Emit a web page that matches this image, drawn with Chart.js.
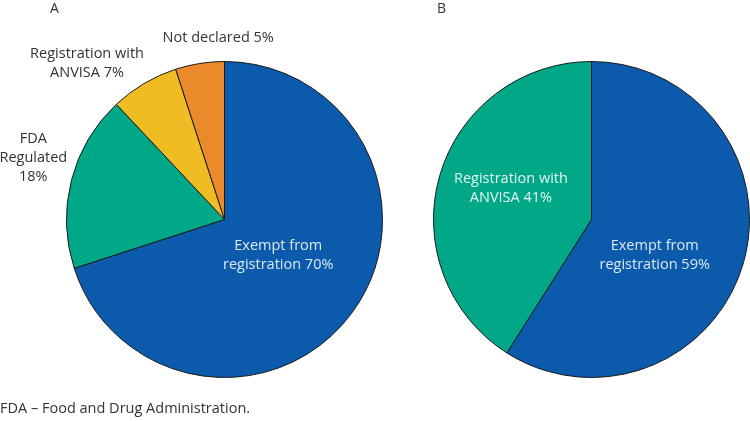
<!DOCTYPE html>
<html>
<head>
<meta charset="utf-8">
<script src="https://cdn.jsdelivr.net/npm/chart.js@4.4.0/dist/chart.umd.min.js"></script>
<style>
    body { margin: 0; background: #fff; width: 750px; height: 421px; position: relative; overflow: hidden; font-family: 'Open Sans', sans-serif; color: #333; }
    #chartA { position: absolute; left: 0; top: 0; }
    #chartB { position: absolute; left: 400px; top: 0; }
    .panel { position: absolute; top: -2px; font-size: 14px; }
    .note { position: absolute; left: 0; top: 398px; font-size: 14.5px; }
</style>
</head>
<body>
<canvas id="chartA" width="400" height="421"></canvas>
<canvas id="chartB" width="350" height="421"></canvas>
<div class="panel" style="left:50px">A</div>
<div class="panel" style="left:437px">B</div>
<div class="note">FDA – Food and Drug Administration.</div>
<script>
// Chart data
const categoriesA = ['Exempt from registration', 'FDA Regulated', 'Registration with ANVISA', 'Not declared'];
const valuesA = [70, 18, 7, 5];
const categoriesB = ['Exempt from registration', 'Registration with ANVISA'];
const valuesB = [59, 41];

// Label text lines (text only)
const labelLinesA = [['Exempt from', 'registration 70%'], ['FDA', 'Regulated', '18%'], ['Registration with', 'ANVISA 7%'], ['Not declared 5%']];
const labelLinesB = [['Exempt from', 'registration 59%'], ['Registration with', 'ANVISA 41%']];

const colorsA = ['#0b5aab', '#00a887', '#efbd23', '#ea8a2b'];
const colorsB = ['#0b5aab', '#00a887'];

// Label placement in radius units from pie centre
const labelPosA = [[0.34, 0.23], [-1.21, -0.39], [-0.87, -0.99], [-0.04, -1.15]];
const labelPosB = [[0.40, 0.23], [-0.51, -0.20]];
const labelColorA = ['#dce8f6', '#333', '#333', '#333'];
const labelColorB = ['#dce8f6', '#e2f5ef'];

const sliceLabels = {
    id: 'sliceLabels',
    afterDraw(chart, args, opts) {
        const ctx = chart.ctx;
        const arc = chart.getDatasetMeta(0).data[0];
        const r = arc.outerRadius;
        ctx.save();
        ctx.font = '14.5px "Open Sans", sans-serif';
        ctx.textAlign = 'center';
        ctx.textBaseline = 'middle';
        opts.lines.forEach((lines, i) => {
            const cx = arc.x + opts.pos[i][0] * r;
            const cy = arc.y + opts.pos[i][1] * r;
            const lh = 19;
            ctx.fillStyle = opts.colors[i];
            lines.forEach((t, j) => {
                ctx.fillText(t, cx, cy + (j - (lines.length - 1) / 2) * lh);
            });
        });
        ctx.restore();
    }
};

function makePie(id, labels, values, colors, padding, lines, pos, textColors) {
    return new Chart(document.getElementById(id), {
        type: 'pie',
        data: {
            labels: labels,
            datasets: [{
                data: values,
                backgroundColor: colors,
                borderColor: '#1a1a1a',
                borderWidth: 1
            }]
        },
        options: {
            responsive: false,
            animation: false,
            layout: { padding: padding },
            plugins: {
                legend: { display: false },
                tooltip: { enabled: false },
                sliceLabels: { lines: lines, pos: pos, colors: textColors }
            }
        },
        plugins: [sliceLabels]
    });
}

makePie('chartA', categoriesA, valuesA, colorsA, { left: 66, right: 17, top: 61, bottom: 43 }, labelLinesA, labelPosA, labelColorA);
makePie('chartB', categoriesB, valuesB, colorsB, { left: 33, right: 0, top: 61, bottom: 43 }, labelLinesB, labelPosB, labelColorB);
</script>
</body>
</html>
